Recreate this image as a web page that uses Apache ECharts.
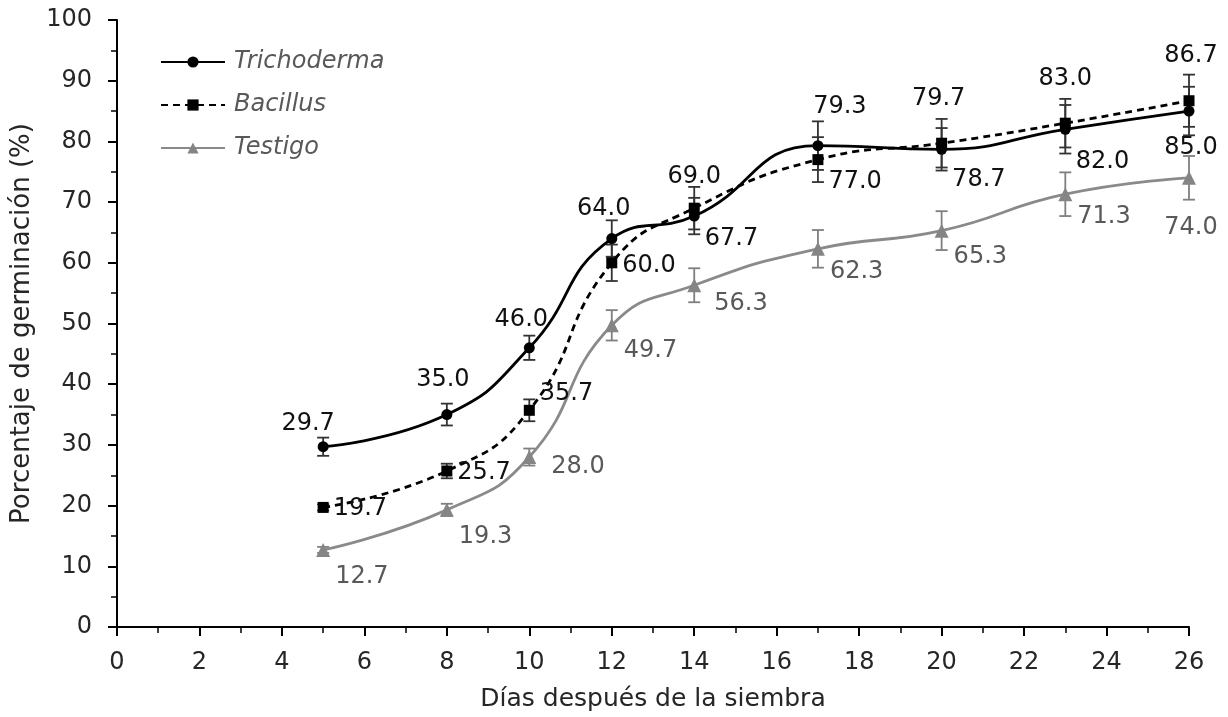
<!DOCTYPE html>
<html><head><meta charset="utf-8">
<script src="https://cdn.jsdelivr.net/npm/echarts@6/dist/echarts.min.js"></script>
<style>html,body{margin:0;padding:0;background:#fff}#c{width:1228px;height:717px}</style>
</head><body><div id="c"></div>
<script>
const days = [5, 8, 10, 12, 14, 17, 20, 23, 26];
const trichoderma = [29.7, 35.0, 46.0, 64.0, 67.7, 79.3, 78.7, 82.0, 85.0];
const bacillus = [19.7, 25.7, 35.7, 60.0, 69.0, 77.0, 79.7, 83.0, 86.7];
const testigo = [12.7, 19.3, 28.0, 49.7, 56.3, 62.3, 65.3, 71.3, 74.0];
const trichodermaErr = [1.5, 1.8, 2.0, 3.0, 3.0, 4.0, 3.5, 4.0, 4.0];
const bacillusErr = [0.5, 1.2, 1.8, 3.0, 3.5, 3.7, 4.0, 4.0, 4.3];
const testigoErr = [0.5, 1.0, 1.4, 2.5, 2.8, 3.1, 3.2, 3.6, 3.6];
const xTicks = [0, 2, 4, 6, 8, 10, 12, 14, 16, 18, 20, 22, 24, 26];
const yTicks = [0, 10, 20, 30, 40, 50, 60, 70, 80, 90, 100];
const seriesNames = ['Trichoderma', 'Bacillus', 'Testigo'];

// label placement (layout only)
const trichoLabelPos = [['top',-15,0],['top',-4,-12],['top',-8,-6],['top',-8,-7],['right',0,23],['top',22,-16],['right',0,30],['right',0,33],['bottom',2,14]];
const bacilLabelPos = [['right',0,1],['right',0,2],['right',0,-17],['right',0,3],['top',0,-9],['right',0,22],['top',-3,-22],['top',0,-22],['top',2,-22]];
const testLabelPos = [['right',0,27],['right',0,27],['right',10,10],['right',0,25],['right',8,19],['right',0,23],['right',0,26],['right',0,23],['bottom',2,26]];

const FONT = 'DejaVu Sans';
function pts(vals, pos, color) {
  return vals.map((v, i) => ({
    value: [days[i], v],
    label: { position: pos[i][0], offset: [pos[i][1], pos[i][2]], color: color }
  }));
}
function errData(vals, errs) {
  return vals.map((v, i) => [days[i], v - errs[i], v + errs[i]]);
}
function errSeries(name, vals, errs, color) {
  return {
    type: 'custom', name: name + '_err', z: 1, silent: true,
    data: errData(vals, errs),
    encode: { x: 0, y: [1, 2] },
    renderItem: function (params, api) {
      const lo = api.coord([api.value(0), api.value(1)]);
      const hi = api.coord([api.value(0), api.value(2)]);
      const w = 6;
      const st = { stroke: color, lineWidth: 1.8 };
      return { type: 'group', children: [
        { type: 'line', shape: { x1: lo[0], y1: lo[1], x2: hi[0], y2: hi[1] }, style: st },
        { type: 'line', shape: { x1: lo[0]-w, y1: lo[1], x2: lo[0]+w, y2: lo[1] }, style: st },
        { type: 'line', shape: { x1: hi[0]-w, y1: hi[1], x2: hi[0]+w, y2: hi[1] }, style: st }
      ]};
    }
  };
}
const labelBase = { show: true, fontFamily: FONT, fontSize: 24, formatter: p => p.value[1].toFixed(1) };

const chart = echarts.init(document.getElementById('c'), null, { renderer: 'canvas' });
chart.setOption({
  animation: false,
  backgroundColor: '#fff',
  textStyle: { fontFamily: FONT },
  grid: { left: 117, right: 39, top: 20, bottom: 86, containLabel: false },
  legend: {
    data: seriesNames, orient: 'vertical', left: 155, top: 45,
    itemWidth: 64, itemHeight: 14, itemGap: 19,
    textStyle: { fontFamily: FONT, fontSize: 24, fontStyle: 'italic', color: '#595959', padding: [0, 0, 0, 4] }
  },
  xAxis: {
    type: 'value', min: 0, max: 26, interval: 2,
    name: 'Días después de la siembra', nameLocation: 'middle', nameGap: 60,
    nameTextStyle: { fontFamily: FONT, fontSize: 25, color: '#262626' },
    axisLine: { show: true, onZero: false, lineStyle: { color: '#000', width: 2 } },
    axisTick: { show: true, inside: false, length: 9, lineStyle: { color: '#000', width: 2 } },
    minorTick: { show: true, splitNumber: 2, length: 6, lineStyle: { color: '#000', width: 1.5 } },
    splitLine: { show: false },
    axisLabel: { fontFamily: FONT, fontSize: 24, color: '#262626', margin: 24,
      formatter: v => xTicks.includes(v) ? String(v) : '' }
  },
  yAxis: {
    type: 'value', min: 0, max: 100, interval: 10,
    name: 'Porcentaje de germinación (%)', nameLocation: 'middle', nameGap: 81, nameRotate: 90,
    nameTextStyle: { fontFamily: FONT, fontSize: 26, color: '#262626' },
    axisLine: { show: true, lineStyle: { color: '#000', width: 2 } },
    axisTick: { show: true, inside: false, length: 9, lineStyle: { color: '#000', width: 2 } },
    minorTick: { show: true, splitNumber: 2, length: 6, lineStyle: { color: '#000', width: 1.5 } },
    splitLine: { show: false },
    axisLabel: { fontFamily: FONT, fontSize: 24, color: '#262626', margin: 25,
      formatter: v => yTicks.includes(v) ? String(v) : '' }
  },
  series: [
    errSeries('Trichoderma', trichoderma, trichodermaErr, '#333'),
    errSeries('Bacillus', bacillus, bacillusErr, '#333'),
    errSeries('Testigo', testigo, testigoErr, '#7f7f7f'),
    {
      name: 'Trichoderma', type: 'line', smooth: 0.5, z: 3,
      symbol: 'circle', symbolSize: 11,
      itemStyle: { color: '#000' },
      lineStyle: { color: '#000', width: 2.8 },
      label: Object.assign({}, labelBase, { color: '#111' }),
      data: pts(trichoderma, trichoLabelPos, '#111')
    },
    {
      name: 'Bacillus', type: 'line', smooth: 0.5, z: 3,
      symbol: 'rect', symbolSize: 11,
      itemStyle: { color: '#000' },
      lineStyle: { color: '#000', width: 2.8, type: [7, 5] },
      label: Object.assign({}, labelBase, { color: '#111' }),
      data: pts(bacillus, bacilLabelPos, '#111')
    },
    {
      name: 'Testigo', type: 'line', smooth: 0.5, z: 2,
      symbol: 'triangle', symbolSize: 14,
      itemStyle: { color: '#858585' },
      lineStyle: { color: '#8a8a8a', width: 2.8 },
      label: Object.assign({}, labelBase, { color: '#595959' }),
      data: pts(testigo, testLabelPos, '#595959')
    }
  ]
});
</script></body></html>
